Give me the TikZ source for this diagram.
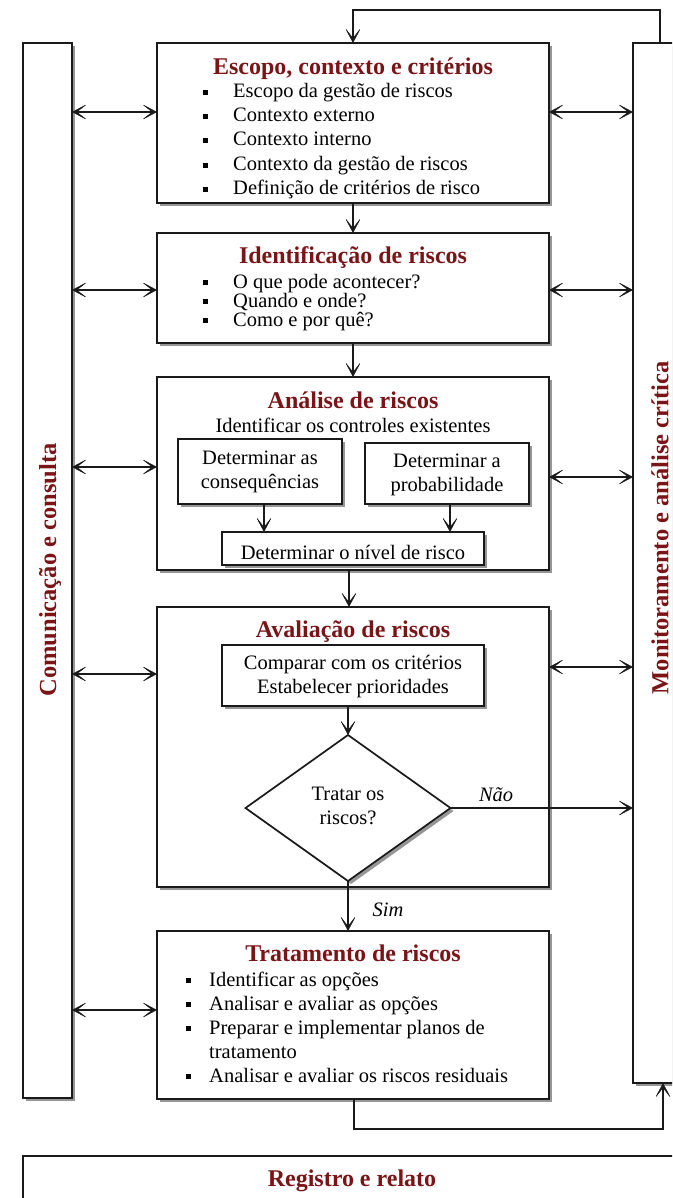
\documentclass[tikz,border=0pt]{standalone}
\usepackage{fontspec}
\setmainfont{Liberation Serif}
\usetikzlibrary{arrows.meta,shapes.geometric,shadows,calc}
\definecolor{ttlred}{HTML}{7A1416}
\definecolor{lnc}{HTML}{1A1A1A}
% square bullet followed by a gap of the given width
\newcommand{\bulsq}[1]{\makebox[#1][l]{\rule[3pt]{5pt}{5pt}}}

\begin{document}
\begin{tikzpicture}[x=1pt,y=-1pt,
  box/.style={draw=lnc, line width=1.7pt, fill=white, inner sep=0pt, outer sep=0pt,
    drop shadow={shadow xshift=3pt, shadow yshift=-3pt, fill=black!75, opacity=.55}},
  plainbox/.style={draw=lnc, line width=1.5pt, fill=white, inner sep=0pt, outer sep=0pt},
  ttl/.style={font=\fontsize{24}{28}\selectfont\bfseries, text=ttlred, anchor=base, inner sep=0pt},
  vt/.style={font=\fontsize{24.5}{28}\selectfont\bfseries, text=ttlred, inner sep=0pt},
  txt/.style={font=\fontsize{20.5}{24}\selectfont, anchor=base west, inner sep=0pt},
  ctxt/.style={font=\fontsize{20.5}{24}\selectfont, align=center, inner sep=0pt},
  lbl/.style={font=\fontsize{20.5}{24}\selectfont\itshape, inner sep=0pt},
  arr/.style={draw=lnc, line width=1.3pt,
    -{Stealth[length=16pt,width=17pt,inset=11pt,line width=0.5pt]}},
  darr/.style={draw=lnc, line width=1.3pt,
    {Stealth[length=16pt,width=17pt,inset=11pt,line width=0.5pt]}-{Stealth[length=16pt,width=17pt,inset=11pt,line width=0.5pt]}}
]
\useasboundingbox (0,0) rectangle (672,1198);
\clip (0,0) rectangle (672,1198);

% side columns
\node[box, minimum width=49pt, minimum height=1055pt] (lcol) at (47.5,570.5) {};
\node[box, minimum width=67pt, minimum height=1040pt] (rcol) at (666.5,563) {};
\node[vt, rotate=90] (ltxt) at (50,570) {Comunicação e consulta};
\node[vt, rotate=90] (rtxt) at (660,528) {Monitoramento e análise crítica};

% main process boxes
\node[box, minimum width=392pt, minimum height=160pt] (b1) at (353,123) {};
\node[box, minimum width=392pt, minimum height=110pt] (b2) at (353,288) {};
\node[box, minimum width=392pt, minimum height=193pt] (b3) at (353,473.5) {};
\node[box, minimum width=392pt, minimum height=280pt] (b4) at (353,747) {};
\node[box, minimum width=392pt, minimum height=168pt] (b5) at (353,1015) {};

% recording and reporting band
\node[plainbox, minimum width=658pt, minimum height=104pt] (reg) at (352,1208) {};
\node[ttl] (regt) at (352,1186) {Registro e relato};

% scope, context and criteria
\node[ttl] (t1) at (353,75) {Escopo, contexto e critérios};
\node[txt] (t1a) at (203,98) {\bulsq{30pt}Escopo da gestão de riscos};
\node[txt] (t1b) at (203,122) {\bulsq{30pt}Contexto externo};
\node[txt] (t1c) at (203,146) {\bulsq{30pt}Contexto interno};
\node[txt] (t1d) at (203,171) {\bulsq{30pt}Contexto da gestão de riscos};
\node[txt] (t1e) at (203,195) {\bulsq{30pt}Definição de critérios de risco};

% risk identification
\node[ttl] (t2) at (353,263) {Identificação de riscos};
\node[txt] (t2a) at (203,288) {\bulsq{30pt}O que pode acontecer?};
\node[txt] (t2b) at (203,307) {\bulsq{30pt}Quando e onde?};
\node[txt] (t2c) at (203,326) {\bulsq{30pt}Como e por quê?};

% risk analysis
\node[ttl] (t3) at (353,408) {Análise de riscos};
\node[txt, anchor=base] (t3s) at (353,432) {Identificar os controles existentes};
\node[box, minimum width=164pt, minimum height=65pt] (sa) at (260,471.5) {};
\node[box, minimum width=164pt, minimum height=61pt] (sb) at (447,473.5) {};
\node[box, minimum width=262pt, minimum height=33pt] (sc) at (353,548.5) {};
\node[ctxt] (sat) at (260,471.5) {Determinar as\\consequências};
\node[ctxt] (sbt) at (447,475) {Determinar a\\probabilidade};
\node[txt, anchor=base] (sct) at (353,559) {Determinar o nível de risco};
\draw[arr] (sa.south -| 264,0) -- (sc.north -| 264,0);
\draw[arr] (sb.south -| 450,0) -- (sc.north -| 450,0);

% risk evaluation
\node[ttl] (t4) at (353,637) {Avaliação de riscos};
\node[box, minimum width=262pt, minimum height=61pt] (ib) at (353,675.5) {};
\node[ctxt] (ibt) at (353,677) {Comparar com os critérios\\Estabelecer prioridades};
\node[box, diamond, minimum width=205pt, minimum height=146pt] (dia) at (348,808) {};
\node[ctxt] (diat) at (348,806) {Tratar os\\riscos?};
\draw[arr] (ib.south -| dia.north) -- (dia.north);

% risk treatment
\node[ttl] (t5) at (353,961) {Tratamento de riscos};
\node[txt] (t5a) at (186,986) {\bulsq{23pt}Identificar as opções};
\node[txt] (t5b) at (186,1010) {\bulsq{23pt}Analisar e avaliar as opções};
\node[txt] (t5c) at (186,1034) {\bulsq{23pt}Preparar e implementar planos de};
\node[txt] (t5d) at (209,1058) {tratamento};
\node[txt] (t5e) at (186,1082) {\bulsq{23pt}Analisar e avaliar os riscos residuais};

% flow between the main steps
\draw[arr] (b1.south) -- (b2.north);
\draw[arr] (b2.south) -- (b3.north);
\draw[arr] (b3.south -| 349,0) -- (b4.north -| 349,0);
\draw[arr] (dia.south) -- (b5.north -| dia.south) node[lbl, pos=0.58, right=24pt] (sim) {Sim};
\draw[arr] (dia.east) -- (rcol.west |- dia.east) node[lbl, pos=0.25, above=6pt] (nao) {Não};

% feedback loop from treatment back to scope
\coordinate (fbr) at (663,1129);
\coordinate (fbt) at (660,10);
\draw[arr] (b5.south -| 354,0) |- (fbr) -- (rcol.south -| fbr);
\draw[arr] (rcol.north -| fbt) -- (fbt) -| (b1.north);

% communication links
\draw[darr] (lcol.east |- 0,112) -- (b1.west |- 0,112);
\draw[darr] (lcol.east |- 0,290) -- (b2.west |- 0,290);
\draw[darr] (lcol.east |- 0,467) -- (b3.west |- 0,467);
\draw[darr] (lcol.east |- 0,674) -- (b4.west |- 0,674);
\draw[darr] (lcol.east |- 0,1010) -- (b5.west |- 0,1010);

% monitoring links
\draw[darr] (b1.east |- 0,112) -- (rcol.west |- 0,112);
\draw[darr] (b2.east |- 0,290) -- (rcol.west |- 0,290);
\draw[darr] (b3.east |- 0,477) -- (rcol.west |- 0,477);
\draw[darr] (b4.east |- 0,667) -- (rcol.west |- 0,667);
\end{tikzpicture}
\end{document}
